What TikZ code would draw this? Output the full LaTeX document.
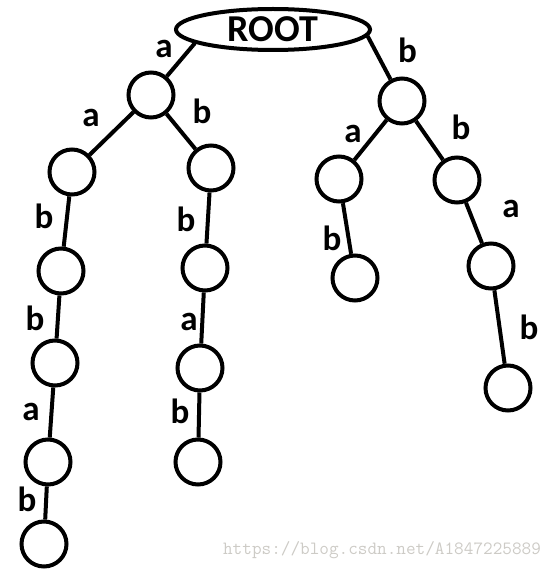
\documentclass[tikz,border=0pt]{standalone}
\usepackage{fontspec}
\newfontfamily\labfont{Carlito}
\usetikzlibrary{shapes.geometric}
\definecolor{wm}{RGB}{205,203,198}
\begin{document}
\begin{tikzpicture}[x=1pt,y=-1pt,
  vtx/.style={circle,draw,line width=4pt,minimum size=45pt,inner sep=0pt},
  rootnode/.style={ellipse,draw,line width=4pt,minimum width=194pt,minimum height=41pt,inner sep=0pt,font=\labfont\bfseries\fontsize{38}{40}\selectfont},
  lbl/.style={inner sep=0pt,font=\labfont\bfseries\fontsize{35}{40}\selectfont},
  link/.style={line width=4pt}]
\useasboundingbox (0,0) rectangle (556,572);
\node[rootnode] (root) at (273,29.5) {ROOT};
\node[vtx] (n1) at (151,95) {};
\node[vtx] (n2) at (402,101) {};
\node[vtx] (n3) at (72,172) {};
\node[vtx] (n4) at (211,168) {};
\node[vtx] (n5) at (61,271) {};
\node[vtx] (n6) at (55,363) {};
\node[vtx] (n7) at (48,462) {};
\node[vtx] (n8) at (44,544) {};
\node[vtx] (n9) at (205,268) {};
\node[vtx] (n10) at (200,368) {};
\node[vtx] (n11) at (198,462) {};
\node[vtx] (n12) at (339,179) {};
\node[vtx] (n13) at (355,278) {};
\node[vtx] (n14) at (457,180) {};
\node[vtx] (n15) at (491,266) {};
\node[vtx] (n16) at (508,388) {};
\draw[link] (root.190) -- (n1);
\draw[link] (root.356) -- (n2);
\draw[link] (n1) -- (n3);
\draw[link] (n1) -- (n4);
\draw[link] (n3) -- (n5);
\draw[link] (n5) -- (n6);
\draw[link] (n6) -- (n7);
\draw[link] (n7) -- (n8);
\draw[link] (n4) -- (n9);
\draw[link] (n9) -- (n10);
\draw[link] (n10) -- (n11);
\draw[link] (n2) -- (n12);
\draw[link] (n12) -- (n13);
\draw[link] (n2) -- (n14);
\draw[link] (n14) -- (n15);
\draw[link] (n15) -- (n16);
\node[lbl] (l1) at (164,49) {a};
\node[lbl] (l2) at (407.5,50) {b};
\node[lbl] (l3) at (91,118) {a};
\node[lbl] (l4) at (202,111) {b};
\node[lbl] (l5) at (44,216) {b};
\node[lbl] (l6) at (35,318) {b};
\node[lbl] (l7) at (31,412) {a};
\node[lbl] (l8) at (27,499) {b};
\node[lbl] (l9) at (186,219) {b};
\node[lbl] (l10) at (189,322) {a};
\node[lbl] (l11) at (180,411) {b};
\node[lbl] (l12) at (353,134) {a};
\node[lbl] (l13) at (461,127) {b};
\node[lbl] (l14) at (332,238) {b};
\node[lbl] (l15) at (511,209) {a};
\node[lbl] (l16) at (529,327) {b};
\node[text=wm,inner sep=0pt,font=\ttfamily\fontsize{18.7}{20}\selectfont] (wmk) at (382,550) {https://blog.csdn.net/A1847225889};
\end{tikzpicture}
\end{document}
